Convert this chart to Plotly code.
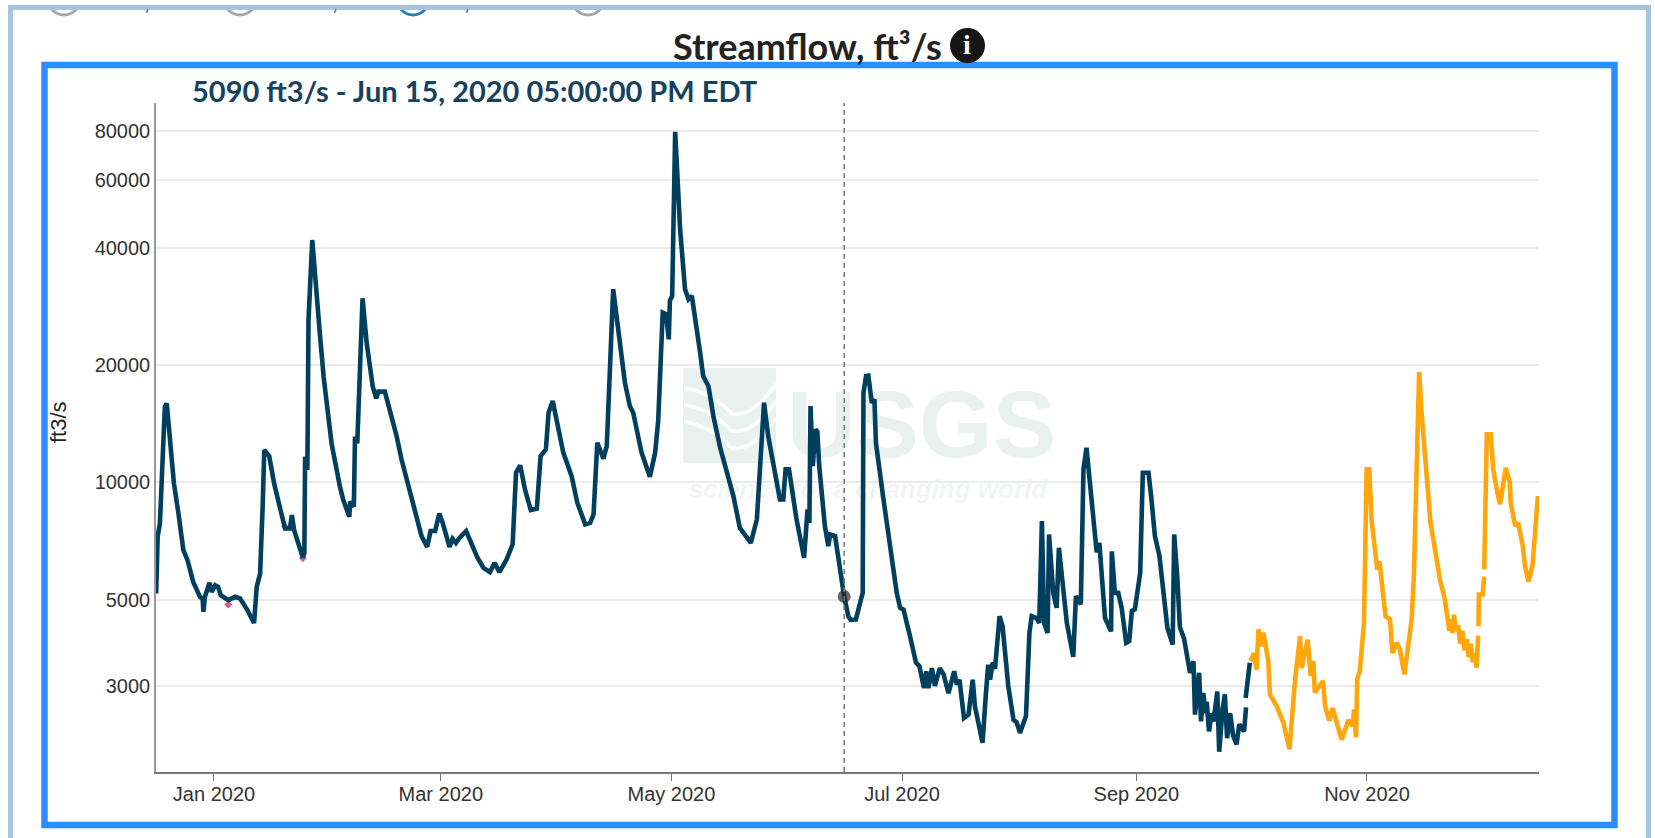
import math
import pandas as pd
import plotly.graph_objects as go

W, H = 1655, 838

# days after 2020-01-01 and discharge in ft3/s
dark_days_1 = [-15.3,-14.9,-14.3,-13.8,-13,-12.5,-11.6,-10.6,-9.4,-8.1,-7,-5.5,-3.7,-3,-2.8,-2.4,-1.2,-0.6,0.3,1.1,1.8,3.8,5.6,6.9,8.6,10.6,11.3,12.2,12.9,13.3,14.6,15.9,17.6,18.8,20.1,20.6,21.2,23.5,23.9,24.1,24.7,25,26,26.7,28,29,31.1,33.3,34.2,35.8,36,37,37.3,37.9,39.3,40.4,42,42.9,43.5,45.2,46.6,
 48.3,49.6,51.4,53.6,54.9,56.4,57.3,58.5,59.6,60.5,62.3,63.1,64,65,66.7,68.2,69.7,71.3,73,74.2,75.5,77.4,79,79.9,81,82.3,83.8,85.4,86.4,87.8,88.5,89.6,90.7,92.4,94.6,96.1,98.2,99.5,100.4,101.4,103,103.9,105.6,107.4,108.7,110,
 110.9,113.1,115.3,116.7,117.5,118.7,119.6,120.3,120.6,121.2,122,123.3,124.6,125.5,126.4,128.6,129.4,130.8,132.1,133.9,137.4,139.1,140.5,142,143.6,144.4,145.5,146.6,148,149.7,150.6,151.2,152.1,154.1,156.1,157,157.5,157.8,158.4,159.1,159.6,160.1,161.6,162.5,163,164.3,166.7,
 167.8,168.4,169.8,170.7,171.6,171.8,172.5,173.1,174,174.7,175.1,177.1,178.8,180.6,181.5,182.4,184.1,185.7,186.6,187.8,188.4,189,189.9,190.7,192,193,194.3,195.8,196.5,197.2,198.4,199.6,200.7,201.3,202.4,203.3,204.2,204.8,205.3,206,206.6,207.8,208.6,210.1,211.5,212.3,213.2,214.8,215.7,216.3,217.6,218.3,219,219.6,220.5,220.9,222,222.9,223.5,
 224.7,225.6,227.3,228,229.3,230,230.8,231.7,233,233.5,234.2,235.7,237.3,237.5,238.3,239.2,240.1,241.3,242.1,242.8,243.6,245,245.7,247.2,247.9,248.9,250.1,251.1,252.2,253.6,254,254.8,255.5,256.6,257.7,258.2,259.1,259.5,260.6,261.1,261.7,262.3,262.6,263.2,263.9,264.4,265.4,265.9,266.8,267.4,268,268.8,269.6,270.5,271.2,272.5,273]
dark_vals_1 = [5180,7250,7850,10550,15660,15970,13100,9950,8320,6700,6310,5550,5080,5030,4650,5080,5520,5230,5440,5380,5130,4980,5080,5030,4740,4350,5390,5830,8830,12110,11690,9950,8490,7620,7620,8240,7540,6410,6570,11640,10760,26170,42000,33800,24150,18700,12600,9760,9010,8160,8920,8670,13100,12600,29750,22780,17630,16450,17120,17120,15200,
 13160,11470,9800,8190,7280,6830,7500,7500,8320,7870,6830,7160,6990,7210,7500,6930,6400,6030,5880,6210,5880,6340,6930,10590,11060,9570,8490,8560,11690,12160,15110,16190,14240,11930,10380,8870,7800,7870,8270,12650,11510,12400,31390,22880,18050,15720,
 15110,11930,10340,11930,14380,27320,27060,23330,29290,30170,79700,44750,31380,29570,30170,21560,18780,17680,14820,12280,9220,7640,7280,6990,8030,10590,16030,13160,11240,9040,9040,10800,10800,8030,6400,8520,7870,15720,11020,13690,13500,11020,7720,6860,7350,7280,5090,
 4530,4430,4440,4810,5200,17000,18780,18820,16030,16350,12650,9040,6860,5200,4760,4710,4030,3440,3370,2960,3270,2960,3330,3000,3330,3210,2870,3270,3020,3110,2480,2530,3110,2650,2360,2140,2870,3400,3110,3440,3320,4530,4270,3000,2450,2420,2270,2510,4100,4530,4480,4350,7950,4350,4100,7350,5200,4760,6790,
 5100,4350,3560,5100,4860,10800,12280,9970,7280,6610,6990,4480,4140,6650,5200,5200,4760,3870,3910,4670,4720,5850,10590,10590,9220,7280,6470,5300,4230,3830,7350,5740,4250,3970,3370,3240,3470,2530,3240,2430,2875,2550,2730,2290,2550,2430,2900,2030,2610,2850,2200,2550,2230,2120,2390,2290,2640]
dark_days_2 = [272.9,274]
dark_vals_2 = [2790,3440]

orange_days_1 = [274.2,275.1,275.8,276.3,277.1,277.6,278.9,279.3,281.1,282.9,284.5,285.1,286,287.3,287.7,289.3,290.1,290.8,291.2,293.4,293.9,295,295.9,298.3,300.1,301.2,301.6,302.1,302.4,303.1,304.2,304.9,305.6,306.2,307.1,307.7,308.3,309.3,309.9,311.1,311.7,312.9,313.7,314.9,315.9,316.8,317.4,318.8,319.5,320.8,321.8,323,324.3,325.6,326.8,327.3,327.6,328,328.6,329.2,329.6,330.3,330.8,331.4,331.9,332.4,333,333.5,334,334.4]
orange_vals_1 = [3470,3640,3300,4190,3790,4110,3470,2850,2660,2410,2060,2480,3130,4020,3330,3940,3180,3470,2880,3090,2660,2440,2630,2180,2450,2360,2610,2210,3130,3270,4350,10800,10800,8030,6860,5970,6270,5200,4530,4440,3640,3870,3720,3210,3800,4440,5740,19230,14820,10200,7870,6720,5630,5000,4150,4450,4100,4570,4150,4280,3850,4150,3700,3950,3560,3850,3450,3650,3340,4040]
orange_days_2 = [334.5,334.6,335.6,336]
orange_vals_2 = [4270,5150,5150,5720]
orange_days_3 = [336,336.7,337.7,338.4,339.5,340.2,341.7,342.8,343,344.2,345,346.2,346.8,347.7,348.8,349.2,350.2]
orange_vals_3 = [5970,13290,13290,10800,9410,8790,10900,10000,8880,7720,7880,6860,6090,5560,6130,6990,9220]

pink_days = [-0.6,3.8,18.8,23.5]
pink_vals = [5350,4850,7700,6380]

cursor_day = 166.7
cursor_value = 5090

y_ticks = [3000,5000,10000,20000,40000,60000,80000]
x_tick_dates = ["2020-01-01","2020-03-01","2020-05-01","2020-07-01","2020-09-01","2020-11-01"]
x_tick_labels = ["Jan 2020","Mar 2020","May 2020","Jul 2020","Sep 2020","Nov 2020"]

title_text = "Streamflow, ft³/s"
readout_text = "5090 ft3/s - Jun 15, 2020 05:00:00 PM EDT"

DARK = "#003f5e"
ORANGE = "#ffa60a"
TICK = "#333333"
WM = "rgba(0,95,70,0.085)"

base = pd.Timestamp("2020-01-01")
def dates(days):
    return [base + pd.Timedelta(hours=d * 24) for d in days]
def px(x): return x / W
def py(y): return 1 - y / H

fig = go.Figure()
def line(days, vals, color, width=4.6):
    fig.add_trace(go.Scatter(x=dates(days), y=vals, mode="lines", line=dict(color=color, width=width),
                             hoverinfo="skip", showlegend=False))
fig.add_trace(go.Scatter(x=dates(pink_days), y=pink_vals, mode="markers",
                         marker=dict(color="#e0559a", size=6, symbol="diamond"), hoverinfo="skip", showlegend=False))
line(dark_days_1, dark_vals_1, DARK)
line(dark_days_2, dark_vals_2, DARK)
line(orange_days_1, orange_vals_1, ORANGE)
line(orange_days_2, orange_vals_2, ORANGE)
line(orange_days_3, orange_vals_3, ORANGE)
fig.add_trace(go.Scatter(x=dates([cursor_day]), y=[cursor_value], mode="markers",
                         marker=dict(color="rgba(40,40,40,0.7)", size=13), hoverinfo="skip", showlegend=False))

shapes = []
def rect(x0, y0, x1, y1, **kw):
    shapes.append(dict(type="rect", xref="paper", yref="paper", x0=px(x0), x1=px(x1), y0=py(y0), y1=py(y1), **kw))
def circ(x0, y0, x1, y1, **kw):
    shapes.append(dict(type="circle", xref="paper", yref="paper", x0=px(x0), x1=px(x1), y0=py(y0), y1=py(y1), **kw))
def wave(points, **kw):
    d = "M %.4f %.4f " % (px(points[0][0]), py(points[0][1]))
    d += " ".join("Q %.4f %.4f %.4f %.4f" % (px(a), py(b), px(c), py(e)) for a, b, c, e in points[1:])
    shapes.append(dict(type="path", xref="paper", yref="paper", path=d, **kw))

# radio buttons cut off at the top of the page
for cx, col in [(64, "#a6a6a6"), (240, "#a6a6a6"), (413, "#2f7fbf"), (588, "#a6a6a6")]:
    circ(cx - 16, -17, cx + 16, 15, line=dict(color=col, width=3), fillcolor="white")
# page frame
rect(-5, -5, W + 5, 5, line=dict(width=0), fillcolor="white")
rect(8, 5, 1651, 10, line=dict(width=0), fillcolor="#a8c5e0")
rect(8, 5, 13, H + 5, line=dict(width=0), fillcolor="#a8c5e0")
rect(1646, 5, 1651, H + 5, line=dict(width=0), fillcolor="#a8c5e0")
# blue chart frame
rect(44.5, 65, 1614.5, 825, line=dict(color="#2b8eff", width=6.5), fillcolor="rgba(0,0,0,0)")
# info icon
circ(950, 28, 985, 63, line=dict(width=0), fillcolor="#161616")
# watermark
rect(683, 368, 776, 463, line=dict(width=0), fillcolor=WM, layer="below")
for off in (0, 17, 34):
    wave([(684, 388 + off), (712, 392 + off, 732, 414 + off), (752, 418 + off, 776, 384 + off)],
         line=dict(color="white", width=3.5), layer="below")
rect(785, 362, 1058, 468, line=dict(width=0), fillcolor="rgba(0,0,0,0)", layer="below",
     label=dict(text="USGS", font=dict(family="Liberation Sans", size=95, color=WM, weight="bold"),
                textposition="middle center"))
rect(680, 470, 1056, 503, line=dict(width=0), fillcolor="rgba(0,0,0,0)", layer="below",
     label=dict(text="science for a changing world",
                font=dict(family="Liberation Sans", size=26, color=WM, weight="bold", style="italic"),
                textposition="middle center"))
# cursor line
shapes.append(dict(type="line", xref="x", yref="paper", x0=dates([cursor_day])[0], x1=dates([cursor_day])[0],
                   y0=py(772), y1=py(103), line=dict(color="#777777", width=1.5, dash="5px,4px")))

annotations = [
    dict(text=title_text, xref="paper", yref="paper", x=px(807), y=py(46), showarrow=False, xanchor="center", yanchor="middle",
         font=dict(family="Lato", size=36, color="#222222", weight="bold")),
    dict(text="i", xref="paper", yref="paper", x=px(967.5), y=py(45), showarrow=False, xanchor="center", yanchor="middle",
         font=dict(family="Liberation Serif", size=28, color="white", weight="bold")),
    dict(text=readout_text, xref="paper", yref="paper", x=px(190), y=py(91), showarrow=False, xanchor="left", yanchor="middle",
         font=dict(family="Lato", size=29, color="#15425f", weight="bold")),
    dict(text="ft3/s", xref="paper", yref="paper", x=px(58), y=py(422), showarrow=False, textangle=-90,
         xanchor="center", yanchor="middle", font=dict(family="Liberation Sans", size=22, color="#222222")),
]
for x0 in (148, 336, 468):
    shapes.append(dict(type="line", xref="paper", yref="paper", x0=px(x0), x1=px(x0 - 1.5), y0=py(9), y1=py(13),
                       line=dict(color="#777777", width=1.5)))

x_range = dates([-15.34, 350.5])
fig.update_layout(
    width=W, height=H, autosize=False, margin=dict(l=0, r=0, t=0, b=0),
    paper_bgcolor="white", plot_bgcolor="white", showlegend=False,
    shapes=shapes, annotations=annotations,
    xaxis=dict(type="date", domain=[px(156), px(1539)], range=x_range, tickmode="array",
               tickvals=x_tick_dates, ticktext=x_tick_labels, ticks="outside", ticklen=7, tickcolor="#777777",
               ticklabelstandoff=-4,
               showgrid=False, zeroline=False, showline=True, linecolor="#777777", linewidth=1.5,
               tickfont=dict(family="Liberation Sans", size=20, color=TICK), anchor="y"),
    yaxis=dict(type="log", domain=[py(772), py(103)], range=[math.log10(1801), math.log10(94500)], tickmode="array",
               tickvals=y_ticks, ticktext=[str(v) for v in y_ticks], ticks="", showgrid=True, gridcolor="#ebebeb", gridwidth=1.7,
               zeroline=False, showline=True, linecolor="#999999", linewidth=1.5,
               tickfont=dict(family="Liberation Sans", size=20, color=TICK), anchor="x"),
)
fig.write_html("out.html", config={"displayModeBar": False}, post_script="document.body.style.margin='0';")
